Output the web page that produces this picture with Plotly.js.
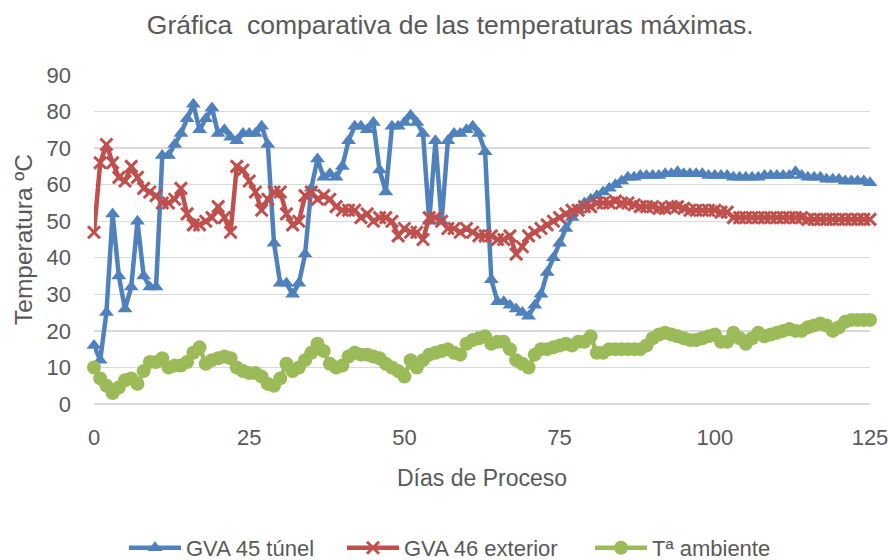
<!DOCTYPE html>
<html>
<head>
<meta charset="utf-8">
<script src="https://cdn.plot.ly/plotly-3.0.1.min.js"></script>
<style>html,body{margin:0;padding:0;background:#fff;}#chart{width:888px;height:560px;}</style>
</head>
<body>
<div id="chart"></div>
<script>
var days = [0,1,2,3,4,5,6,7,8,9,10,11,12,13,14,15,16,17,18,19,20,21,22,23,24,25,26,27,28,29,30,31,32,33,34,35,36,37,38,39,40,41,42,43,44,45,46,47,48,49,50,51,52,53,54,55,56,57,58,59,60,61,62,63,64,65,66,67,68,69,70,71,72,73,74,75,76,77,78,79,80,81,82,83,84,85,86,87,88,89,90,91,92,93,94,95,96,97,98,99,100,101,102,103,104,105,106,107,108,109,110,111,112,113,114,115,116,117,118,119,120,121,122,123,124,125];

var gva45Tunel = [16,12,25,52,35,26,32,50,35,32,
  32,68,68,71,74,78,82,75,78,81,
  74,75,73,72,74,74,74,76,71,44,
  33,33,30,33,41,59,67,62,63,62,
  65,72,76,76,75,77,64,58,76,76,
  77,79,77,74,50,72,50,72,74,74,
  75,76,74,69,34,28,28,27,26,25,
  24,27,30,36,40,44,48,51,53,55,
  56,57,58,59,60,61,62,62,62.5,62.5,
  62.5,62.5,63,63,63.5,63,63,63,63,62.5,
  62.5,62.5,62.5,62,62,62,62,62,62.5,62.5,
  62.5,62.5,62.5,63.5,62.5,62,62,62,61.5,61.5,
  61.5,61,61,61,61,60.5];

var gva46Exterior = [47,66,71,66,62,61,65,62,59,58,
  57,55,55,56,59,52,49,49,50,51,
  54,51,47,65,64,61,58,53,56,58,
  58,52,49,50,57,58,56,57,56,54,
  53,53,53,51,52,50,51,51,50,46,
  48,47,47,45,51,51,50,48,48,47,
  48,47,46,46,46,45,45,46,41,43,
  46,47,48,49,50,51,52,53,53,54,
  54,55,55,55,55.5,55,55,54.5,54,54,
  54,53.5,53.5,54,54,53.5,53,53,53,53,
  53,52.5,52.5,51,51,51,51,51,51,51,
  51,51,51,51,51,50.5,50.5,50.5,50.5,50.5,
  50.5,50.5,50.5,50.5,50.5,50.5];

var tAmbiente = [10,7,5,3,4.5,6.5,7,5.5,9,11.5,
  11.5,12.5,10,10.5,10.5,11.5,14,15.5,11,12,
  12.5,13,12.5,10,9,8.5,8.5,7.5,5.5,5,
  7,11,9,10,12,14,16.5,14.5,11,10,
  10.5,13,14,13.5,13.5,13,12.5,11,10,9,
  7.5,12,10,12,13.5,14,14.5,15,14,13.5,
  16.5,17.5,18,18.5,16.5,17,17,15,12,11,
  10,13.5,15,15,15.5,16,16.5,16,17,17,
  18.5,14,14,15,15,15,15,15,15,16,
  18,19,19.5,19,18.5,18,17.5,17.5,18,18.5,
  19,17,17,19.5,18,16.5,18,19.5,18.5,19,
  19.5,20,20.5,20,20,21,21.5,22,21.5,20,
  21,22.5,23,23,23,23];

var seriesNames = ['GVA 45 túnel','GVA 46 exterior','Tª ambiente'];
var xTicks = [0,25,50,75,100,125];
var yTicks = [0,10,20,30,40,50,60,70,80,90];

var FONT = '"Liberation Sans", Arial, sans-serif';
var TXT = '#595959';

var traces = [
  {x: days, y: gva45Tunel, name: seriesNames[0], legend: 'legend', type: 'scatter', mode: 'lines+markers', cliponaxis: false,
   line: {color: '#4F81BD', width: 4.5},
   marker: {symbol: 'triangle-up', size: 13, color: '#4F81BD'}},
  {x: days, y: gva46Exterior, name: seriesNames[1], legend: 'legend2', type: 'scatter', mode: 'lines+markers', cliponaxis: false,
   line: {color: '#C0504D', width: 4.5},
   marker: {symbol: 'x-thin', size: 12, color: '#C0504D', line: {color: '#C0504D', width: 3}}},
  {x: days, y: tAmbiente, name: seriesNames[2], legend: 'legend3', type: 'scatter', mode: 'lines+markers', cliponaxis: false,
   line: {color: '#9BBB59', width: 4.5},
   marker: {symbol: 'circle', size: 14, color: '#9BBB59'}}
];

function legendAt(px) {
  return {orientation: 'h', x: px / 888, xref: 'container', xanchor: 'left',
          y: (560 - 548) / 560, yref: 'container', yanchor: 'middle',
          font: {family: FONT, size: 22, color: TXT}, itemwidth: 52, bgcolor: 'rgba(0,0,0,0)'};
}

var layout = {
  width: 888, height: 560,
  paper_bgcolor: '#ffffff', plot_bgcolor: '#ffffff',
  margin: {l: 94, r: 18, t: 75, b: 156, autoexpand: false},
  font: {family: FONT, color: TXT, size: 21},
  title: {text: 'Gráfica  comparativa de las temperaturas máximas.', font: {family: FONT, size: 26.5, color: TXT},
          x: 0.507, xanchor: 'center', y: 0.956, yanchor: 'middle', yref: 'container'},
  xaxis: {range: [0, 125], tickvals: xTicks, ticktext: xTicks.map(String), showgrid: false, zeroline: false,
          showline: false, ticks: '', ticklabelstandoff: 18, ticklabeloverflow: 'allow',
          tickfont: {family: FONT, size: 22, color: TXT},
          title: {text: 'Días de Proceso', font: {family: FONT, size: 23, color: TXT}, standoff: 20}},
  yaxis: {range: [0, 90], tickvals: yTicks, ticktext: yTicks.map(String), showgrid: true, gridcolor: '#D9D9D9', gridwidth: 1.3,
          zeroline: true, zerolinecolor: '#D9D9D9', zerolinewidth: 1.3, showline: false, ticks: '', ticklabelstandoff: 22,
          ticklabeloverflow: 'allow',
          tickfont: {family: FONT, size: 22, color: TXT},
          title: {text: 'Temperatura ºC', font: {family: FONT, size: 24.5, color: TXT}, standoff: 6}},
  showlegend: true,
  legend: legendAt(124),
  legend2: legendAt(342),
  legend3: legendAt(590)
};

Plotly.newPlot('chart', traces, layout, {displayModeBar: false, staticPlot: true});
</script>
</body>
</html>
